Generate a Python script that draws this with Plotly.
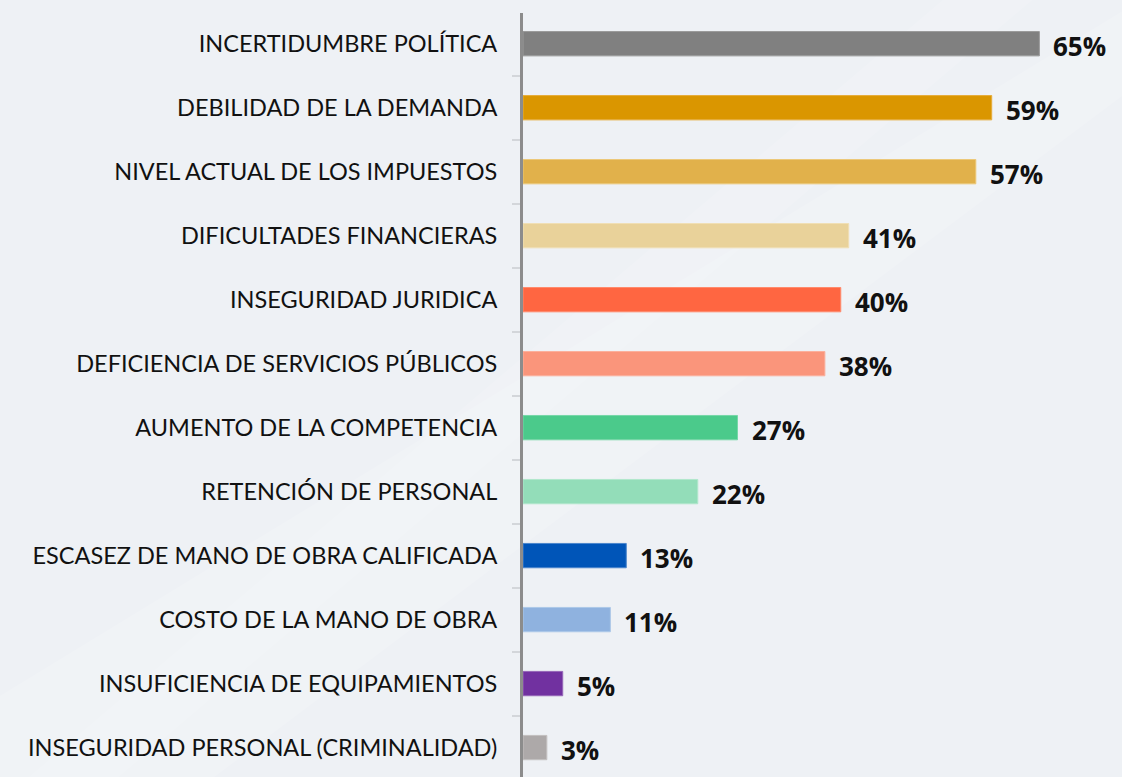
import plotly.graph_objects as go

categories = [
    "INCERTIDUMBRE POLÍTICA",
    "DEBILIDAD DE LA DEMANDA",
    "NIVEL ACTUAL DE LOS IMPUESTOS",
    "DIFICULTADES FINANCIERAS",
    "INSEGURIDAD JURIDICA",
    "DEFICIENCIA DE SERVICIOS PÚBLICOS",
    "AUMENTO DE LA COMPETENCIA",
    "RETENCIÓN DE PERSONAL",
    "ESCASEZ DE MANO DE OBRA CALIFICADA",
    "COSTO DE LA MANO DE OBRA",
    "INSUFICIENCIA DE EQUIPAMIENTOS",
    "INSEGURIDAD PERSONAL (CRIMINALIDAD)",
]
values = [65, 59, 57, 41, 40, 38, 27, 22, 13, 11, 5, 3]
colors = [
    "#808080", "#DA9600", "#E1B14B", "#E9D29A", "#FF6641", "#FA957B",
    "#4BCA8B", "#93DDB9", "#0055B8", "#8FB2DF", "#7131A0", "#ADA9A9",
]
edge_colors = [
    "#9a9a9a", "#e6ad3a", "#ecc878", "#f0dfb5", "#ff8a6c", "#fbb09c",
    "#77d7a7", "#b0e7cb", "#4a85cc", "#adc8e8", "#9566b8", "#c3c0c0",
]

fig = go.Figure()
fig.add_trace(go.Bar(
    x=values,
    y=categories,
    orientation="h",
    width=0.38,
    marker=dict(color=colors, line=dict(color=edge_colors, width=1)),
    hoverinfo="skip",
))

for cat, v in zip(categories, values):
    fig.add_annotation(
        x=v, y=cat, text=f"<b>{v}%</b>", showarrow=False,
        xanchor="left", yanchor="middle", xshift=12, yshift=-2,
        font=dict(family="Open Sans", size=26, color="#111111"),
    )

# faint diagonal highlights across the backdrop
fig.add_shape(type="path", xref="paper", yref="paper", layer="below",
              path="M -1.2 -0.05 L -0.6 -0.05 L 1.1 0.95 L 1.1 1.05 Z",
              fillcolor="rgba(255,255,255,0.14)", line_width=0)
fig.add_shape(type="path", xref="paper", yref="paper", layer="below",
              path="M -0.9 -0.05 L -0.75 -0.05 L 0.9 1.05 L 0.75 1.05 Z",
              fillcolor="rgba(255,255,255,0.12)", line_width=0)

fig.update_layout(
    width=1122, height=777,
    margin=dict(l=523, r=0, t=13, b=0),
    paper_bgcolor="#EEF1F5",
    plot_bgcolor="rgba(0,0,0,0)",
    showlegend=False,
    xaxis=dict(range=[0, 75.4], visible=False, fixedrange=True),
    yaxis=dict(
        categoryorder="array", categoryarray=categories,
        range=[11.46, -0.48],
        showline=True, linecolor="#8C8C8C", linewidth=3,
        ticks="outside", tickson="boundaries", ticklen=8,
        tickcolor="#D3D6DA", tickwidth=1.5,
        ticklabelstandoff=18,
        tickfont=dict(family="Lato", size=23.5, color="#111111"),
        showgrid=False, zeroline=False, fixedrange=True,
    ),
)

fig.write_html("out.html")
